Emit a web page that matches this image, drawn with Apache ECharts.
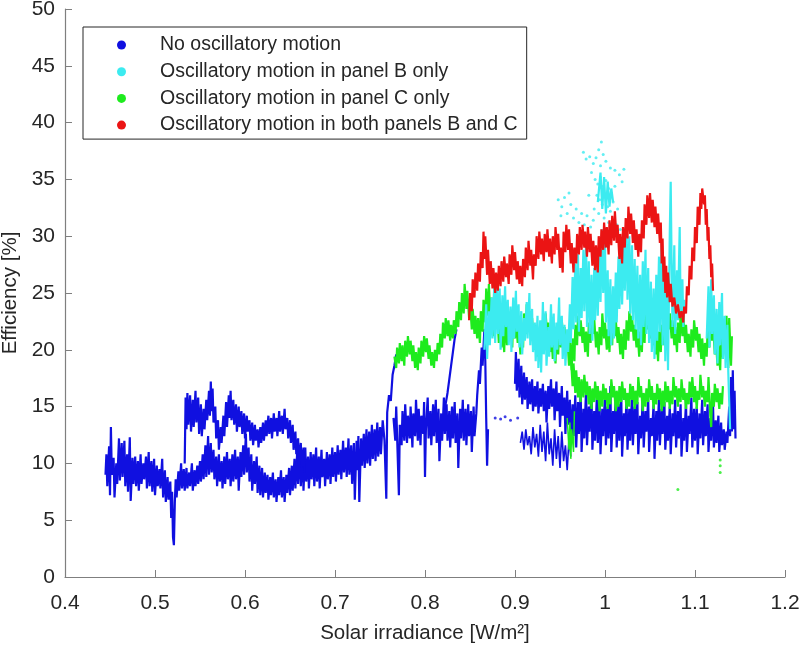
<!DOCTYPE html>
<html>
<head>
<meta charset="utf-8">
<script src="https://cdn.jsdelivr.net/npm/echarts@6/dist/echarts.min.js"></script>
<style>
html,body{margin:0;padding:0;background:#fff;}
#chart{width:800px;height:648px;}
</style>
</head>
<body>
<div id="chart"></div>
<script>
// names / colours
var names = ['No oscillatory motion', 'Oscillatory motion in panel B only', 'Oscillatory motion in panel C only', 'Oscillatory motion in both panels B and C'];
var colors = ['#1010e0', '#3cebf0', '#1eeb1e', '#eb1414'];
var xTicks = [0.4, 1.2, 0.1];
var yTicks = [0, 50, 5];

// ---- blue: no oscillatory motion ----
var blueLow = [[0.445,9.0],[0.446,10.8],[0.447,8.0],[0.449,11.5],[0.450,7.2],[0.451,13.2],[0.452,9.0],[0.454,10.5],[0.455,7.0],[0.457,10.0],[0.458,8.2],[0.460,12.2],[0.461,8.5],[0.463,11.8],[0.464,8.8],[0.466,12.0],[0.467,8.0],[0.469,10.8],[0.470,7.5],[0.472,12.3],[0.473,6.7],[0.475,10.5],[0.476,8.2],[0.478,10.6],[0.479,8.0],[0.481,10.2],[0.482,7.6],[0.484,10.8],[0.485,8.2],[0.487,10.0],[0.488,8.6],[0.490,10.6],[0.491,7.8],[0.493,11.0],[0.494,8.0],[0.496,10.2],[0.497,7.5],[0.499,10.4],[0.500,7.2],[0.502,9.8],[0.503,8.0],[0.505,9.5],[0.506,7.8],[0.508,10.4],[0.509,7.0],[0.511,9.4],[0.512,6.6],[0.514,8.8],[0.515,6.8],[0.517,8.4],[0.518,5.2],[0.519,7.5],[0.520,3.5],[0.521,2.8],[0.522,6.5],[0.523,8.6],[0.524,7.0],[0.526,9.3],[0.527,7.6],[0.529,10.0],[0.530,7.8],[0.532,9.5],[0.533,7.6],[0.535,9.6],[0.536,7.8],[0.538,9.2],[0.539,8.0],[0.541,10.0],[0.542,7.6],[0.544,9.4],[0.545,8.0],[0.547,9.8],[0.548,8.2],[0.550,10.2],[0.551,8.4],[0.553,10.8],[0.554,8.6],[0.556,11.6],[0.557,8.8],[0.559,12.4],[0.560,9.0],[0.562,11.8],[0.563,9.2],[0.565,11.2],[0.566,8.6],[0.568,10.6],[0.569,8.0],[0.571,10.8],[0.572,8.4],[0.574,10.2],[0.575,7.8],[0.577,10.6],[0.578,8.2],[0.580,11.0],[0.581,8.6],[0.583,10.4],[0.584,8.0],[0.586,10.8],[0.587,8.4],[0.589,11.2],[0.590,8.6],[0.592,10.6],[0.593,7.6],[0.595,11.0],[0.596,8.8],[0.598,11.6],[0.599,9.0],[0.601,12.6],[0.602,9.2],[0.604,11.4],[0.605,8.4],[0.607,10.8],[0.608,7.6],[0.610,10.2],[0.611,8.2],[0.613,10.6],[0.614,7.4],[0.616,9.8],[0.617,7.2],[0.619,9.6],[0.620,7.0],[0.622,9.2],[0.623,7.4],[0.625,9.0],[0.626,6.8],[0.628,8.8],[0.629,7.2],[0.631,9.2],[0.632,7.0],[0.634,8.6],[0.635,6.6],[0.637,8.8],[0.638,7.2],[0.640,9.4],[0.641,7.0],[0.643,8.8],[0.644,6.6],[0.646,9.0],[0.647,7.4],[0.649,9.6],[0.650,7.2],[0.652,9.8],[0.653,7.6],[0.655,10.4],[0.656,7.8],[0.658,11.0],[0.659,8.2],[0.661,11.2],[0.662,8.0],[0.664,10.8],[0.665,7.6],[0.667,11.4],[0.668,8.4],[0.670,10.6],[0.671,7.8],[0.673,11.0],[0.674,8.6],[0.676,10.8],[0.677,8.0],[0.679,11.4],[0.680,8.4],[0.682,10.6],[0.683,7.8],[0.685,11.2],[0.686,8.8],[0.688,10.4],[0.689,8.0],[0.691,11.0],[0.692,8.6],[0.694,10.8],[0.695,8.2],[0.697,11.4],[0.698,8.8],[0.700,11.0],[0.701,8.4],[0.703,11.6],[0.704,9.0],[0.706,11.2],[0.707,8.6],[0.709,12.0],[0.710,9.2],[0.712,11.4],[0.713,8.8],[0.715,12.2],[0.716,9.0],[0.718,11.6],[0.719,8.2],[0.721,11.8],[0.722,6.8],[0.724,12.0],[0.725,9.4],[0.726,12.4],[0.727,6.6],[0.729,12.2],[0.730,9.8],[0.732,12.6],[0.733,9.6],[0.735,13.0],[0.736,10.0],[0.738,12.8],[0.739,9.8],[0.741,13.4],[0.742,10.4],[0.744,13.0],[0.745,10.2],[0.747,13.6],[0.748,10.6],[0.750,13.2],[0.751,10.8],[0.753,13.8],[0.755,12.0],[0.757,6.9],[0.758,14.5],[0.760,16.0],[0.762,15.5],[0.764,17.8],[0.766,18.6],[0.768,19.6]];
var blueUp = [[0.533,10.0],[0.534,15.8],[0.535,13.0],[0.536,16.2],[0.537,13.4],[0.539,16.0],[0.540,12.8],[0.542,15.6],[0.543,13.2],[0.545,16.4],[0.546,13.6],[0.548,15.8],[0.549,12.6],[0.551,15.2],[0.552,12.4],[0.554,14.8],[0.555,13.0],[0.557,15.6],[0.558,13.8],[0.560,16.4],[0.561,14.2],[0.562,17.2],[0.563,14.6],[0.564,16.6],[0.565,13.6],[0.567,15.0],[0.568,12.2],[0.570,13.8],[0.571,11.2],[0.573,13.2],[0.574,11.8],[0.576,14.2],[0.577,12.4],[0.579,15.4],[0.580,13.2],[0.582,16.0],[0.583,14.0],[0.584,16.4],[0.585,13.8],[0.587,15.6],[0.588,13.4],[0.590,15.2],[0.591,12.8],[0.593,15.0],[0.594,13.2],[0.596,14.6],[0.597,12.6],[0.599,14.4],[0.600,12.2],[0.602,14.2],[0.603,12.8],[0.605,13.8],[0.606,12.0],[0.608,13.6],[0.609,11.6],[0.611,13.4],[0.612,12.0],[0.614,13.0],[0.615,11.4],[0.617,13.2],[0.618,11.8],[0.620,13.6],[0.621,12.0],[0.623,13.8],[0.624,12.4],[0.626,14.2],[0.627,12.6],[0.629,14.0],[0.630,12.2],[0.632,14.4],[0.633,12.8],[0.635,14.0],[0.636,12.4],[0.638,14.6],[0.639,12.8],[0.641,14.2],[0.642,12.6],[0.644,14.8],[0.645,13.0],[0.647,14.0],[0.648,12.2],[0.650,13.8],[0.651,11.8],[0.653,13.4],[0.654,11.2],[0.656,12.8],[0.657,10.8],[0.659,12.2],[0.660,10.0],[0.662,11.8],[0.663,9.6],[0.665,11.4],[0.666,9.2]];
var blueMid = [[0.765,14.0],[0.767,12.0],[0.768,15.0],[0.771,7.2],[0.772,13.4],[0.774,11.6],[0.775,14.6],[0.777,12.0],[0.778,15.2],[0.780,11.8],[0.781,14.2],[0.783,12.2],[0.784,15.0],[0.786,11.4],[0.787,14.4],[0.789,12.4],[0.790,15.6],[0.792,12.0],[0.793,14.8],[0.795,11.6],[0.796,14.2],[0.798,12.6],[0.799,15.4],[0.800,8.8],[0.801,13.0],[0.803,15.8],[0.804,12.2],[0.806,14.6],[0.807,11.6],[0.809,15.2],[0.810,12.4],[0.812,15.6],[0.813,11.8],[0.815,14.8],[0.816,10.2],[0.818,14.4],[0.819,12.0],[0.821,15.8],[0.822,12.6],[0.824,15.2],[0.825,12.0],[0.827,14.6],[0.828,11.4],[0.830,15.0],[0.831,12.2],[0.833,15.4],[0.834,11.8],[0.836,14.4],[0.837,9.6],[0.839,14.8],[0.840,12.2],[0.842,15.6],[0.843,12.0],[0.845,14.8],[0.846,11.6],[0.848,15.2],[0.849,12.4],[0.851,14.6],[0.852,11.0],[0.854,15.0],[0.855,12.4],[0.857,14.4],[0.858,16.0],[0.860,18.2],[0.861,17.0],[0.863,20.2],[0.864,18.6],[0.866,21.8],[0.867,19.0],[0.868,14.0],[0.869,9.8],[0.870,13.0]];
var blueRamp = [[0.822,14.8],[0.825,16.2],[0.827,17.4],[0.829,18.6],[0.831,19.8],[0.833,21.0],[0.835,21.8]];
var blueRight = [[0.900,17.0],[0.901,19.8],[0.902,16.4],[0.904,19.2],[0.905,15.8],[0.907,18.6],[0.908,15.2],[0.910,18.0],[0.911,15.6],[0.913,17.6],[0.914,14.8],[0.916,17.2],[0.917,15.2],[0.919,17.4],[0.920,14.6],[0.922,16.8],[0.923,15.0],[0.925,17.2],[0.926,14.4],[0.928,16.6],[0.929,15.0],[0.931,17.0],[0.932,14.6],[0.934,16.4],[0.935,13.6],[0.937,16.8],[0.938,14.8],[0.940,17.4],[0.941,15.0],[0.943,16.6],[0.944,13.8],[0.946,17.2],[0.947,14.6],[0.949,16.2],[0.950,13.2],[0.952,16.8],[0.953,14.2],[0.955,15.8],[0.956,12.6],[0.958,16.4],[0.959,13.4],[0.961,15.6],[0.962,11.8],[0.964,15.2],[0.965,12.4],[0.967,16.0],[0.968,11.4],[0.970,15.4],[0.971,12.6],[0.973,16.2],[0.974,11.0],[0.976,14.8],[0.977,12.2],[0.979,16.6],[0.980,11.6],[0.982,15.0],[0.983,12.8],[0.985,16.4],[0.986,11.2],[0.988,14.6],[0.989,12.0],[0.991,16.0],[0.992,11.8],[0.994,15.2],[0.995,10.8],[0.997,14.8],[0.998,12.4],[1.000,16.2],[1.001,11.6],[1.003,15.0],[1.004,12.2],[1.006,16.8],[1.007,11.0],[1.009,14.6],[1.010,12.6],[1.012,15.8],[1.013,11.4],[1.015,15.2],[1.016,12.0],[1.018,16.4],[1.019,10.6],[1.021,14.4],[1.022,12.4],[1.024,15.6],[1.025,11.2],[1.027,14.8],[1.028,12.0],[1.030,16.0],[1.031,11.6],[1.033,15.0],[1.034,12.6],[1.036,15.4],[1.037,10.8],[1.039,14.2],[1.040,12.2],[1.042,15.8],[1.043,11.4],[1.045,14.6],[1.046,12.8],[1.048,15.6],[1.049,11.0],[1.051,14.0],[1.052,12.4],[1.054,15.2],[1.055,10.4],[1.057,14.6],[1.058,12.0],[1.060,15.8],[1.061,11.6],[1.063,14.8],[1.064,12.6],[1.066,15.4],[1.067,11.2],[1.069,14.2],[1.070,12.0],[1.072,15.0],[1.073,10.8],[1.075,14.4],[1.076,12.4],[1.078,15.6],[1.079,11.4],[1.081,14.6],[1.082,12.2],[1.084,15.2],[1.085,10.6],[1.087,14.0],[1.088,12.0],[1.090,15.4],[1.091,11.0],[1.093,14.2],[1.094,12.6],[1.096,15.8],[1.097,11.4],[1.099,14.8],[1.100,12.0],[1.102,15.0],[1.103,10.8],[1.105,14.4],[1.106,12.2],[1.108,15.6],[1.109,11.6],[1.111,14.6],[1.112,12.4],[1.114,15.2],[1.115,11.0],[1.117,14.0],[1.118,12.0],[1.120,15.4],[1.121,11.4],[1.123,13.8],[1.124,11.8],[1.126,14.2],[1.127,11.0],[1.129,13.6],[1.130,11.6],[1.132,13.0],[1.133,11.2],[1.135,12.8],[1.136,11.8],[1.138,15.0],[1.139,12.4],[1.140,17.6],[1.141,12.8],[1.142,18.2],[1.143,13.0],[1.144,16.4],[1.145,12.2]];
var blueBlob = [[0.906,11.8],[0.908,12.8],[0.910,11.2],[0.912,13.0],[0.914,11.6],[0.916,12.4],[0.918,10.8],[0.920,13.2],[0.922,11.4],[0.924,12.6],[0.926,10.6],[0.928,13.4],[0.930,11.0],[0.932,12.8],[0.934,10.2],[0.936,13.6],[0.938,10.8],[0.940,12.2],[0.942,9.8],[0.944,13.0],[0.946,10.4],[0.948,12.4],[0.950,9.6],[0.952,12.8],[0.954,10.2],[0.956,11.6],[0.958,9.4],[0.960,12.2],[0.962,10.6]];
var blueDots = [[0.878,14.0],[0.884,13.9],[0.889,14.1],[0.895,13.8],[0.903,14.0]];

// ---- cyan: panel B only ----
var cyanLeft = [[0.866,20.0],[0.868,24.0],[0.869,19.2],[0.871,23.4],[0.872,20.4],[0.874,24.6],[0.875,21.0],[0.877,25.8],[0.878,20.6],[0.880,26.2],[0.881,21.4],[0.883,25.4],[0.884,20.0],[0.886,24.8],[0.887,21.2],[0.889,25.6],[0.890,22.0],[0.892,24.4],[0.893,20.4],[0.895,23.8],[0.896,19.8],[0.898,24.6],[0.899,21.0],[0.901,25.2],[0.902,21.6],[0.904,24.0],[0.905,20.2],[0.907,23.4],[0.908,19.6],[0.910,22.8],[0.911,20.8],[0.913,24.2],[0.914,21.0],[0.916,25.0],[0.917,20.4],[0.919,23.6],[0.920,19.8],[0.922,22.4],[0.923,19.0],[0.925,23.0],[0.926,18.4],[0.928,22.6],[0.929,18.0],[0.931,24.2],[0.932,19.6],[0.934,23.4],[0.935,18.6],[0.937,22.0],[0.938,19.4],[0.940,24.0],[0.941,20.2],[0.943,23.2],[0.944,19.0],[0.946,22.4],[0.947,20.0],[0.949,24.6],[0.950,20.4],[0.952,23.0],[0.953,19.2],[0.955,22.2],[0.956,18.6],[0.958,21.8],[0.959,19.8],[0.961,24.0],[0.962,20.6],[0.964,26.4],[0.965,21.8],[0.967,27.6],[0.968,22.4],[0.970,28.4],[0.971,21.6],[0.973,27.2],[0.974,22.8],[0.976,28.8],[0.977,23.4],[0.979,29.4],[0.980,22.0],[0.982,27.8],[0.983,21.4],[0.985,26.6],[0.986,20.8],[0.988,27.2],[0.989,22.6],[0.991,28.6],[0.992,23.0],[0.994,29.8],[0.995,24.2],[0.997,30.6],[0.998,25.0],[1.000,29.4],[1.001,22.4],[1.003,27.0],[1.004,21.2],[1.006,26.2],[1.007,20.4],[1.009,25.6],[1.010,21.0],[1.012,26.8],[1.013,22.4],[1.015,28.2],[1.016,23.6],[1.018,29.6],[1.019,24.0],[1.021,30.4],[1.022,25.2],[1.024,31.2],[1.025,24.4],[1.027,30.0],[1.028,23.2],[1.030,29.2],[1.031,22.6],[1.033,28.0],[1.034,21.8],[1.036,27.4],[1.037,21.0],[1.039,26.6],[1.040,20.4],[1.042,27.8],[1.043,22.0],[1.045,28.8],[1.046,21.4],[1.048,27.2],[1.049,20.6],[1.051,26.0],[1.052,19.8],[1.054,25.4],[1.055,19.2],[1.057,26.6],[1.058,20.8],[1.060,28.2],[1.061,21.6],[1.063,29.6],[1.064,20.4],[1.066,27.4],[1.067,19.0],[1.069,25.8],[1.070,18.2],[1.072,30.4],[1.073,34.8],[1.074,27.6],[1.075,22.0],[1.077,29.2],[1.078,21.4],[1.080,27.0],[1.081,22.6],[1.083,30.8],[1.084,23.4],[1.086,26.2],[1.087,22.0],[1.088,24.4]];
var cyanRight = [[1.113,21.0],[1.115,25.6],[1.116,20.2],[1.118,26.2],[1.119,21.4],[1.121,24.8],[1.122,19.6],[1.124,23.6],[1.125,18.8],[1.127,24.2],[1.128,20.4],[1.130,25.0],[1.131,19.2],[1.133,23.0],[1.134,18.4],[1.136,22.2],[1.137,18.0],[1.138,15.4],[1.139,13.0]];
var cyanCore = [[0.992,33.0],[0.995,35.6],[0.997,32.4],[0.999,35.2],[1.001,32.0],[1.003,34.8],[1.005,32.6],[1.007,34.2],[1.009,33.0]];
var cyanCloud = [[0.996,38.3],[0.993,37.6],[0.998,37.2],[0.976,37.4],[0.979,36.8],[0.983,37.0],[0.987,36.4],[0.990,36.9],[0.995,36.2],[1.001,36.6],[1.006,36.0],[1.011,35.8],[1.016,35.4],[1.021,35.9],[1.019,34.8],[0.985,35.6],[0.989,35.0],[0.992,34.6],[0.995,35.2],[0.998,34.4],[1.001,34.9],[1.004,34.2],[1.007,33.8],[0.991,33.6],[0.994,33.2],[0.997,32.8],[1.000,33.4],[1.003,32.6],[1.006,32.2],[1.009,33.0],[0.993,32.0],[0.999,31.6],[1.004,31.2],[0.948,33.2],[0.952,32.6],[0.955,33.4],[0.958,32.0],[0.962,32.8],[0.965,31.6],[0.968,32.4],[0.971,31.2],[0.974,32.0],[0.977,31.0],[0.980,31.8],[0.984,30.8],[0.987,31.4],[0.951,31.8],[0.960,33.8],[1.013,31.0],[1.017,30.6],[1.011,34.4],[0.982,33.6],[0.988,32.4],[1.014,32.4]];

// ---- green: panel C only ----
var greenUp = [[0.766,19.4],[0.768,18.4],[0.769,20.2],[0.771,18.8],[0.772,20.6],[0.774,19.0],[0.775,20.4],[0.777,18.6],[0.778,20.8],[0.780,19.4],[0.781,21.2],[0.783,19.6],[0.784,20.8],[0.786,19.0],[0.787,20.4],[0.789,18.4],[0.790,19.8],[0.792,18.2],[0.793,20.2],[0.795,18.8],[0.796,20.8],[0.798,19.4],[0.799,21.2],[0.801,19.8],[0.802,21.0],[0.804,19.2],[0.805,20.4],[0.807,18.6],[0.808,19.8],[0.810,18.4],[0.811,20.0],[0.813,19.0],[0.814,20.6],[0.816,19.6],[0.817,21.4],[0.819,20.2],[0.820,22.4],[0.822,21.0],[0.823,22.8],[0.825,21.2],[0.826,22.6],[0.828,20.8],[0.829,22.2],[0.831,21.0],[0.832,22.6],[0.834,21.4],[0.835,23.4],[0.837,22.0],[0.838,24.2],[0.840,22.6],[0.841,25.0],[0.843,23.2],[0.844,25.8],[0.846,23.6],[0.847,25.2],[0.849,22.8],[0.850,24.2],[0.852,21.8],[0.853,23.6],[0.855,21.4],[0.856,23.0],[0.858,21.0],[0.859,22.8],[0.861,20.6],[0.862,23.4],[0.864,21.6],[0.865,24.4],[0.867,22.4],[0.868,25.4],[0.870,23.0],[0.871,25.8],[0.873,22.0],[0.874,24.6],[0.876,21.2],[0.877,26.2],[0.879,22.4],[0.880,24.0],[0.882,20.6],[0.883,22.8],[0.885,20.2],[0.886,22.4],[0.888,19.8],[0.889,22.6],[0.891,20.4],[0.892,23.0],[0.894,21.0],[0.895,22.6],[0.897,20.2],[0.898,23.4],[0.900,21.0],[0.901,22.8],[0.903,20.6],[0.904,22.4],[0.906,19.6],[0.907,22.0],[0.909,20.2],[0.910,23.2],[0.912,21.4],[0.913,24.0],[0.915,21.8],[0.916,23.4],[0.918,21.2],[0.919,22.8],[0.921,20.0],[0.922,22.2],[0.924,19.4],[0.925,21.6],[0.927,19.0],[0.928,21.8],[0.930,20.2],[0.931,22.6],[0.933,20.8],[0.934,23.2],[0.936,21.0],[0.937,22.4],[0.939,19.8],[0.940,21.8],[0.942,19.2],[0.943,21.2],[0.945,18.8],[0.946,21.4],[0.948,19.6],[0.949,22.0],[0.951,20.2],[0.952,22.6],[0.954,20.6],[0.955,22.0],[0.957,19.8],[0.958,21.4],[0.960,18.6],[0.961,20.8],[0.963,18.2],[0.964,21.0],[0.966,19.0],[0.967,22.2],[0.969,20.4],[0.970,23.0],[0.972,21.2],[0.973,22.6],[0.975,20.6],[0.976,22.0],[0.978,19.8],[0.979,21.6],[0.981,19.4],[0.982,22.4],[0.984,20.6],[0.985,23.4],[0.987,21.4],[0.988,22.8],[0.990,20.2],[0.991,21.6],[0.993,19.6],[0.994,22.0],[0.996,20.4],[0.997,23.2],[0.999,21.0],[1.000,22.4],[1.002,20.0],[1.003,21.8],[1.005,19.8],[1.006,22.2],[1.008,20.4],[1.009,23.0],[1.011,21.2],[1.012,22.6],[1.014,20.6],[1.015,22.0],[1.017,19.6],[1.018,21.4],[1.020,19.2],[1.021,21.8],[1.023,20.0],[1.024,22.6],[1.026,20.8],[1.027,23.4],[1.029,21.6],[1.030,23.0],[1.032,20.8],[1.033,22.2],[1.035,20.2],[1.036,21.8],[1.038,19.4],[1.039,21.6],[1.041,19.8],[1.042,22.4],[1.044,20.6],[1.045,23.6],[1.047,21.8],[1.048,23.0],[1.050,21.0],[1.051,22.4],[1.053,20.4],[1.054,21.8],[1.056,19.6],[1.057,21.2],[1.059,19.0],[1.060,21.6],[1.062,19.8],[1.063,22.2],[1.065,20.4],[1.066,23.0],[1.068,21.4],[1.069,23.8],[1.071,21.8],[1.072,23.2],[1.074,21.0],[1.075,22.6],[1.077,20.4],[1.078,22.0],[1.080,19.8],[1.081,22.4],[1.083,20.6],[1.084,23.6],[1.086,21.2],[1.087,23.0],[1.089,20.6],[1.090,22.2],[1.092,19.8],[1.093,21.4],[1.095,19.4],[1.096,21.8],[1.098,20.2],[1.099,22.6],[1.101,20.8],[1.102,22.0],[1.104,19.8],[1.105,21.4],[1.107,19.2],[1.108,21.0],[1.110,18.6],[1.111,20.6],[1.113,19.4],[1.114,21.8],[1.116,20.2],[1.117,23.0],[1.119,20.8],[1.120,22.4],[1.122,19.6],[1.123,21.2],[1.125,18.6],[1.126,20.4],[1.128,18.2],[1.129,21.6],[1.131,19.2],[1.132,22.6],[1.134,19.8],[1.135,23.0],[1.137,18.4],[1.138,22.8],[1.140,18.6],[1.141,21.2]];
var greenLow = [[0.962,19.6],[0.964,16.8],[0.965,18.8],[0.967,16.2],[0.968,18.2],[0.970,15.8],[0.971,17.6],[0.973,15.4],[0.974,17.4],[0.976,15.8],[0.977,17.8],[0.979,16.0],[0.980,17.2],[0.982,15.2],[0.983,16.8],[0.985,14.8],[0.986,16.6],[0.988,15.4],[0.989,17.2],[0.991,15.6],[0.992,16.8],[0.994,14.6],[0.995,16.4],[0.997,15.0],[0.998,17.0],[1.000,15.6],[1.001,16.6],[1.003,14.8],[1.004,16.2],[1.006,15.2],[1.007,17.4],[1.009,15.8],[1.010,16.8],[1.012,14.6],[1.013,16.4],[1.015,15.0],[1.016,16.8],[1.018,15.4],[1.019,17.2],[1.021,15.6],[1.022,16.6],[1.024,14.8],[1.025,16.2],[1.027,15.0],[1.028,17.0],[1.030,15.6],[1.031,16.8],[1.033,14.8],[1.034,16.4],[1.036,15.2],[1.037,17.6],[1.039,15.8],[1.040,16.8],[1.042,14.6],[1.043,16.2],[1.045,15.0],[1.046,16.6],[1.048,15.4],[1.049,17.4],[1.051,15.6],[1.052,16.8],[1.054,14.8],[1.055,16.2],[1.057,15.2],[1.058,17.0],[1.060,15.6],[1.061,16.6],[1.063,14.6],[1.064,16.4],[1.066,15.0],[1.067,17.2],[1.069,15.4],[1.070,16.8],[1.072,14.8],[1.073,16.4],[1.075,15.2],[1.076,17.6],[1.078,15.8],[1.079,16.8],[1.081,15.0],[1.082,16.6],[1.084,15.4],[1.085,17.4],[1.087,15.6],[1.088,16.6],[1.090,14.8],[1.091,16.2],[1.093,15.2],[1.094,17.2],[1.096,15.8],[1.097,17.6],[1.099,15.4],[1.100,16.8],[1.102,14.8],[1.103,16.4],[1.105,15.6],[1.106,17.8],[1.108,15.8],[1.109,16.8],[1.111,15.0],[1.112,16.4],[1.114,15.4],[1.115,17.6],[1.117,14.2],[1.118,13.2],[1.119,16.2],[1.121,15.0],[1.122,17.0],[1.124,15.4],[1.125,16.6],[1.127,14.8],[1.128,16.2],[1.130,15.2],[1.131,16.8]];
var greenStem = [[0.958,14.0],[0.960,11.2],[0.961,13.6],[0.962,10.4],[0.963,13.0],[0.965,11.0],[0.966,14.6]];
var greenDots = [[1.081,7.7],[1.128,9.2],[1.128,9.8],[1.128,10.3]];

// ---- red: panels B and C ----
var redBand = [[0.849,22.6],[0.850,25.0],[0.852,23.4],[0.853,26.2],[0.855,24.6],[0.856,26.8],[0.858,25.2],[0.859,27.6],[0.861,26.0],[0.862,28.6],[0.864,27.2],[0.865,30.4],[0.866,28.0],[0.867,30.0],[0.869,26.6],[0.870,28.8],[0.872,25.8],[0.873,27.8],[0.875,25.4],[0.876,27.2],[0.878,25.0],[0.879,26.8],[0.881,25.2],[0.882,27.4],[0.884,25.6],[0.885,27.8],[0.887,26.0],[0.888,28.2],[0.890,26.4],[0.891,27.6],[0.893,25.8],[0.894,28.4],[0.896,26.6],[0.897,29.2],[0.899,27.0],[0.900,28.6],[0.902,26.2],[0.903,27.8],[0.905,25.8],[0.906,27.4],[0.908,25.6],[0.909,28.0],[0.911,26.4],[0.912,29.0],[0.914,27.0],[0.915,29.6],[0.917,27.4],[0.918,28.8],[0.920,26.2],[0.921,28.4],[0.923,27.4],[0.924,30.0],[0.926,28.0],[0.927,30.4],[0.929,28.4],[0.930,29.8],[0.932,27.8],[0.933,30.2],[0.935,28.6],[0.936,30.6],[0.938,28.2],[0.939,29.8],[0.941,27.6],[0.942,30.0],[0.944,28.4],[0.945,30.8],[0.947,28.8],[0.948,30.2],[0.950,27.2],[0.951,29.0],[0.953,26.8],[0.954,30.4],[0.956,28.6],[0.957,31.0],[0.959,28.8],[0.960,30.6],[0.962,27.6],[0.963,29.4],[0.965,26.8],[0.966,29.0],[0.968,27.6],[0.969,30.2],[0.971,28.4],[0.972,30.8],[0.974,28.8],[0.975,31.0],[0.977,29.0],[0.978,30.4],[0.980,28.2],[0.981,30.8],[0.983,28.6],[0.984,30.2],[0.986,27.4],[0.987,29.6],[0.989,27.0],[0.990,29.2],[0.992,26.8],[0.993,30.0],[0.995,28.2],[0.996,30.6],[0.998,28.8],[0.999,31.2],[1.001,29.0],[1.002,30.8],[1.004,28.4],[1.005,31.4],[1.007,29.2],[1.008,31.8],[1.010,29.6],[1.011,32.2],[1.013,29.4],[1.014,31.0],[1.016,28.0],[1.017,30.2],[1.019,27.6],[1.020,30.8],[1.022,29.0],[1.023,31.6],[1.025,29.8],[1.026,32.6],[1.028,30.2],[1.029,32.0],[1.031,29.4],[1.032,31.4],[1.034,28.8],[1.035,30.6],[1.037,28.2],[1.038,30.2],[1.040,28.6],[1.041,31.4],[1.043,29.8],[1.044,32.8],[1.046,31.0],[1.047,33.6],[1.049,31.6],[1.050,33.8],[1.052,31.2],[1.053,33.2],[1.055,30.8],[1.056,32.6],[1.058,30.2],[1.059,32.0],[1.061,29.4],[1.062,31.2],[1.063,27.6],[1.064,29.8],[1.065,26.0],[1.066,28.2],[1.067,25.0],[1.068,27.4],[1.069,24.6],[1.070,26.8],[1.072,24.2],[1.073,25.8],[1.075,23.8],[1.077,24.6],[1.079,23.2],[1.081,24.0],[1.083,22.8],[1.085,23.4],[1.087,22.4],[1.088,23.8],[1.090,23.2],[1.091,25.6],[1.093,24.8],[1.094,27.4],[1.096,26.2],[1.097,29.0],[1.099,27.8],[1.100,30.8],[1.102,29.4],[1.103,32.6],[1.105,31.0],[1.106,33.8],[1.107,32.4],[1.108,34.2],[1.110,32.8],[1.111,33.6],[1.112,31.0],[1.113,32.4],[1.114,29.6],[1.115,30.8],[1.116,28.0],[1.117,29.2],[1.118,26.4],[1.119,27.6],[1.120,25.2]];

// 通用：一段轨迹 / 零散点
function trace(k, data, w) {
    return {
        name: names[k], type: 'line', data: data, symbol: 'none', showSymbol: false,
        lineStyle: { color: colors[k], width: w || 2.2 },
        itemStyle: { color: colors[k] },
        silent: true
    };
}
function dots(k, data, s) {
    return {
        name: names[k], type: 'scatter', data: data, symbolSize: s || 3,
        itemStyle: { color: colors[k] }, silent: true
    };
}

var chart = echarts.init(document.getElementById('chart'));
var font = 'Liberation Sans, Arial, Helvetica, sans-serif';
var axisColor = '#7f7f7f';
var textColor = '#262626';

var option = {
    animation: false,
    backgroundColor: '#fff',
    grid: { left: 65, right: 15, top: 9, bottom: 71, containLabel: false, outerBoundsMode: 'none' },
    legend: {
        data: names,
        orient: 'vertical',
        left: 83, top: 27,
        icon: 'circle',
        itemWidth: 9, itemHeight: 9,
        itemGap: 6.7,
        padding: [8, 9, 4, 34],
        borderColor: '#262626', borderWidth: 1,
        backgroundColor: '#fff',
        selectedMode: false,
        textStyle: { color: textColor, fontSize: 19.5, fontFamily: font, lineHeight: 20, padding: [0, 0, 0, 29] }
    },
    xAxis: {
        type: 'value', min: xTicks[0], max: xTicks[1], interval: xTicks[2],
        name: 'Solar irradiance [W/m²]', nameLocation: 'middle', nameGap: 46,
        nameTextStyle: { color: textColor, fontSize: 20.5, fontFamily: font },
        axisLine: { lineStyle: { color: axisColor, width: 1.2 } },
        axisTick: { inside: true, length: 7, lineStyle: { color: axisColor } },
        axisLabel: { color: textColor, fontSize: 21, fontFamily: font, margin: 16,
            formatter: function (v) { return String(+v.toFixed(1)); } },
        splitLine: { show: false }
    },
    yAxis: {
        type: 'value', min: yTicks[0], max: yTicks[1], interval: yTicks[2],
        name: 'Efficiency [%]', nameLocation: 'middle', nameGap: 31,
        nameTextStyle: { color: textColor, fontSize: 20.5, fontFamily: font },
        axisLine: { show: true, lineStyle: { color: axisColor, width: 1.2 } },
        axisTick: { show: true, inside: true, length: 7, lineStyle: { color: axisColor } },
        axisLabel: { color: textColor, fontSize: 21, fontFamily: font, margin: 10 },
        splitLine: { show: false }
    },
    series: [
        trace(0, blueLow), trace(0, blueUp), trace(0, blueMid), trace(0, blueRamp),
        trace(0, blueRight), trace(0, blueBlob, 1.6), dots(0, blueDots),
        trace(2, greenUp), trace(2, greenLow), trace(2, greenStem, 1.5), dots(2, greenDots),
        trace(1, cyanLeft), trace(1, cyanRight), trace(1, cyanCore), dots(1, cyanCloud, 3),
        trace(3, redBand)
    ]
};
chart.setOption(option);
</script>
</body>
</html>
